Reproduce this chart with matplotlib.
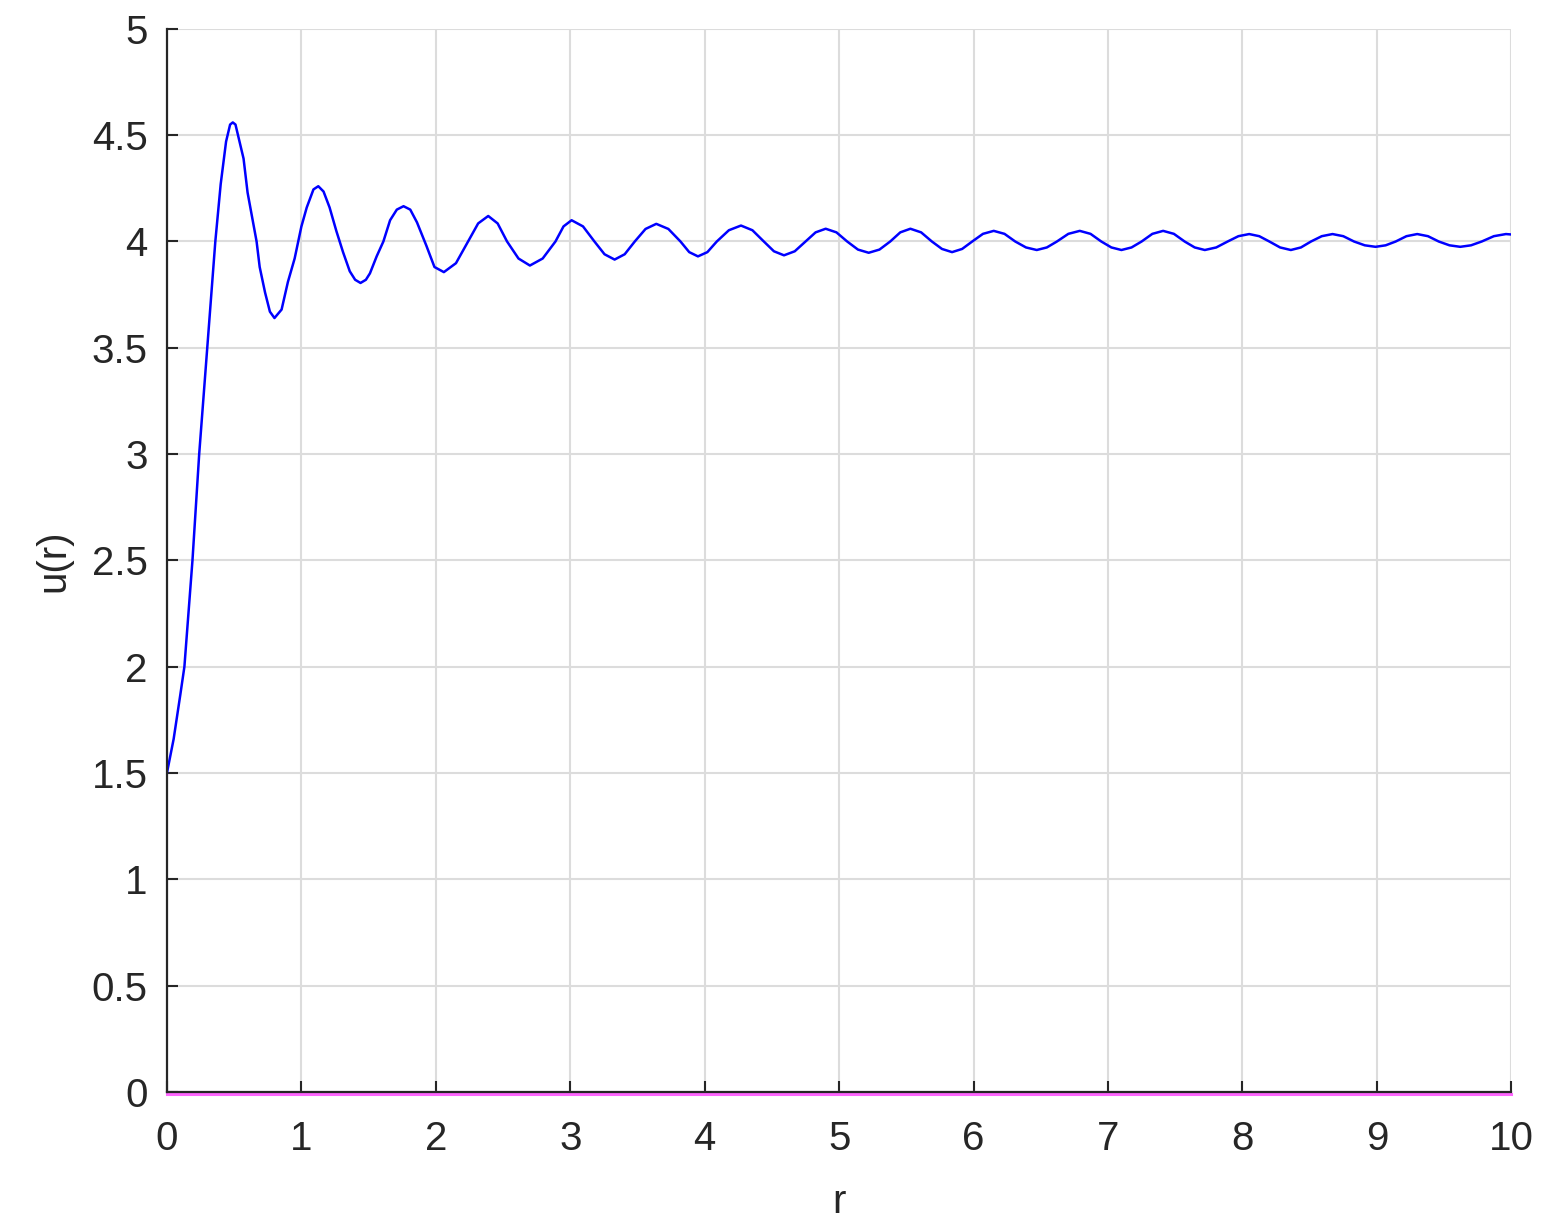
import numpy as np
import matplotlib
matplotlib.use("Agg")
import matplotlib.pyplot as plt
import matplotlib.transforms as mtransforms

# u(r) (extrema, crossings of 4 and points between)
r_vals = [
    0.00, 0.05, 0.10, 0.13, 0.19, 0.24, 0.30, 0.36, 0.40, 0.44, 0.47, 0.49, 0.51, 0.54,
    0.57, 0.60, 0.667, 0.69, 0.73, 0.766, 0.80,
    0.853, 0.90, 0.95, 1.00, 1.04, 1.09, 1.126, 1.165,
    1.21, 1.26, 1.31, 1.36, 1.40, 1.44, 1.48,
    1.51, 1.56, 1.61, 1.66, 1.71, 1.76, 1.81,
    1.86, 1.93, 1.99, 2.06,
    2.15, 2.24, 2.315, 2.39, 2.46, 2.53, 2.615, 2.70, 2.795, 2.89, 2.95, 3.01,
    3.095, 3.18, 3.255, 3.33, 3.405, 3.48, 3.56, 3.64, 3.73, 3.82, 3.885, 3.95,
    4.02, 4.09, 4.18, 4.27, 4.355, 4.44, 4.515, 4.59, 4.67, 4.75, 4.825, 4.90,
    4.98, 5.06, 5.14, 5.22, 5.30, 5.38, 5.455, 5.53, 5.61, 5.69, 5.765, 5.84,
    5.915, 5.99, 6.07, 6.15, 6.23, 6.31, 6.39, 6.47, 6.545, 6.62, 6.705, 6.79,
    6.87, 6.95, 7.025, 7.10, 7.175, 7.25, 7.33, 7.41, 7.49, 7.57, 7.645, 7.72,
    7.805, 7.89, 7.97, 8.05, 8.125, 8.20, 8.28, 8.36, 8.435, 8.51, 8.59, 8.67,
    8.75, 8.83, 8.91, 8.99, 9.065, 9.14, 9.22, 9.30, 9.38, 9.46, 9.54, 9.62,
    9.70, 9.78, 9.87, 9.96, 10.00,
]
u_vals = [
    1.50, 1.66, 1.87, 2.00, 2.50, 3.00, 3.50, 4.00, 4.27, 4.47, 4.55, 4.56, 4.55, 4.47,
    4.39, 4.23, 4.00, 3.88, 3.76, 3.67, 3.64,
    3.68, 3.81, 3.92, 4.07, 4.16, 4.245, 4.26, 4.235,
    4.16, 4.05, 3.95, 3.86, 3.82, 3.805, 3.82,
    3.85, 3.93, 4.00, 4.10, 4.15, 4.166, 4.15,
    4.09, 3.98, 3.88, 3.856,
    3.898, 4.00, 4.085, 4.12, 4.085, 4.00, 3.92, 3.887, 3.92, 4.00, 4.071, 4.10,
    4.071, 4.00, 3.94, 3.915, 3.94, 4.00, 4.059, 4.083, 4.059, 4.00, 3.95, 3.93,
    3.95, 4.00, 4.053, 4.075, 4.053, 4.00, 3.954, 3.935, 3.954, 4.00, 4.043, 4.06,
    4.043, 4.00, 3.962, 3.947, 3.962, 4.00, 4.043, 4.06, 4.043, 4.00, 3.965, 3.95,
    3.965, 4.00, 4.036, 4.05, 4.036, 4.00, 3.972, 3.96, 3.972, 4.00, 4.036, 4.05,
    4.036, 4.00, 3.972, 3.96, 3.972, 4.00, 4.036, 4.05, 4.036, 4.00, 3.972, 3.96,
    3.972, 4.00, 4.025, 4.035, 4.025, 4.00, 3.972, 3.96, 3.972, 4.00, 4.025, 4.035,
    4.025, 4.00, 3.982, 3.975, 3.982, 4.00, 4.025, 4.035, 4.025, 4.00, 3.982, 3.975,
    3.982, 4.00, 4.025, 4.035, 4.033,
]
zero_r = [0.0, 10.0]
zero_u = [0.0, 0.0]

x_ticks = list(range(0, 11))
y_ticks = [0, 0.5, 1, 1.5, 2, 2.5, 3, 3.5, 4, 4.5, 5]
y_tick_labels = ["0", "0.5", "1", "1.5", "2", "2.5", "3", "3.5", "4", "4.5", "5"]

plt.rcParams["font.family"] = ["Liberation Sans", "DejaVu Sans"]
dark = "#262626"

fig = plt.figure(figsize=(15.6, 12.29), dpi=100)
ax = fig.add_axes([0.107, 0.1115, 0.8618, 0.865])

ax.plot(r_vals, u_vals, color="#0000ff", lw=1.8, zorder=3, solid_joinstyle="round")
# magenta zero line sits just under the x axis line
shift = mtransforms.offset_copy(ax.transData, fig=fig, x=0, y=-2, units="dots")
ax.plot(zero_r, zero_u, color="#ff66ff", lw=2.2, transform=shift, clip_on=False, zorder=2)

ax.set_xlim(0, 10)
ax.set_ylim(0, 5)
ax.set_xticks(x_ticks)
ax.set_yticks(y_ticks)
ax.set_yticklabels(y_tick_labels)

ax.grid(True, color="#dcdcdc", lw=1.5)
ax.set_axisbelow(True)

for side in ["top", "right"]:
    ax.spines[side].set_visible(False)
for side in ["left", "bottom"]:
    ax.spines[side].set_color(dark)
    ax.spines[side].set_linewidth(1.6)
    ax.spines[side].set_zorder(4)

ax.tick_params(axis="both", direction="in", length=8, width=1.5, color=dark,
               labelcolor=dark, labelsize=29)
ax.tick_params(axis="x", pad=20)
ax.tick_params(axis="y", pad=14)

ax.set_xlabel("r", fontsize=29, color=dark, labelpad=18)
ax.set_ylabel("u(r)", fontsize=29, color=dark, labelpad=14)

plt.savefig("out.png", dpi=100)
plt.close()
